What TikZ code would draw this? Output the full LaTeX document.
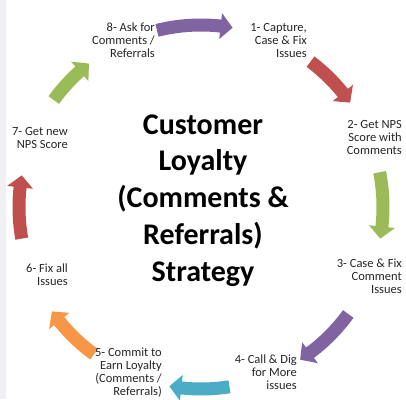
\documentclass[tikz,border=0pt]{standalone}
\usepackage{fontspec}
\setmainfont{Carlito}
\definecolor{cpurple}{HTML}{8064A2}
\definecolor{cred}{HTML}{C0504D}
\definecolor{cgreen}{HTML}{9BBB59}
\definecolor{cblue}{HTML}{4BACC6}
\definecolor{corange}{HTML}{F79646}
\definecolor{stripgray}{HTML}{EFF0F3}
\newcommand{\cycarrow}[3]{%
  \pgfmathsetmacro{\ah}{#3+3.8}%
  \fill[#1] (#2:188.5pt) arc[start angle=#2,end angle=\ah,radius=188.5pt]
    -- (\ah:195pt) -- (#3:182pt) -- (\ah:169pt) -- (\ah:175.5pt)
    arc[start angle=\ah,end angle=#2,radius=175.5pt] -- cycle;}
\begin{document}
\begin{tikzpicture}[x=1pt,y=1pt,
  lbl/.style={anchor=base east,align=right,inner sep=0pt,
    font=\fontsize{12.5}{13}\selectfont,text=black!85},
  title/.style={anchor=base,align=center,inner sep=0pt,
    font=\fontsize{30}{36.8}\selectfont\bfseries}]
\useasboundingbox (0,0) rectangle (406,399);
\fill[white] (0,0) rectangle (406,399);
\fill[stripgray] (0,0) rectangle (6,399);
\begin{scope}[shift={(201,192)}]
  \cycarrow{cpurple}{104}{80}
  \cycarrow{cred}{53}{35}
  \cycarrow{cgreen}{11}{-10}
  \cycarrow{cpurple}{-36}{-57}
  \cycarrow{cblue}{-81}{-100}
  \cycarrow{corange}{-126}{-145}
  \cycarrow{cred}{190}{170}
  \cycarrow{cgreen}{144}{128}
\end{scope}
\node[title] (t) at (203,117.8) {Customer\\Loyalty\\(Comments \&\\Referrals)\\Strategy};
\node[lbl] (l8) at (155,341.5) {8- Ask for\\Comments /\\Referrals};
\node[lbl] (l1) at (307,341.5) {1- Capture,\\Case \& Fix\\Issues};
\node[lbl] (l2) at (402,244.5) {2- Get NPS\\Score with\\Comments};
\node[lbl] (l3) at (402,106) {3- Case \& Fix\\Comment\\Issues};
\node[lbl] (l4) at (297,9.5) {4- Call \& Dig\\for More\\issues};
\node[lbl] (l5) at (162,3.5) {5- Commit to\\Earn Loyalty\\(Comments /\\Referrals)};
\node[lbl] (l6) at (68,114) {6- Fix all\\Issues};
\node[lbl] (l7) at (68,250.5) {7- Get new\\NPS Score};
\end{tikzpicture}
\end{document}
